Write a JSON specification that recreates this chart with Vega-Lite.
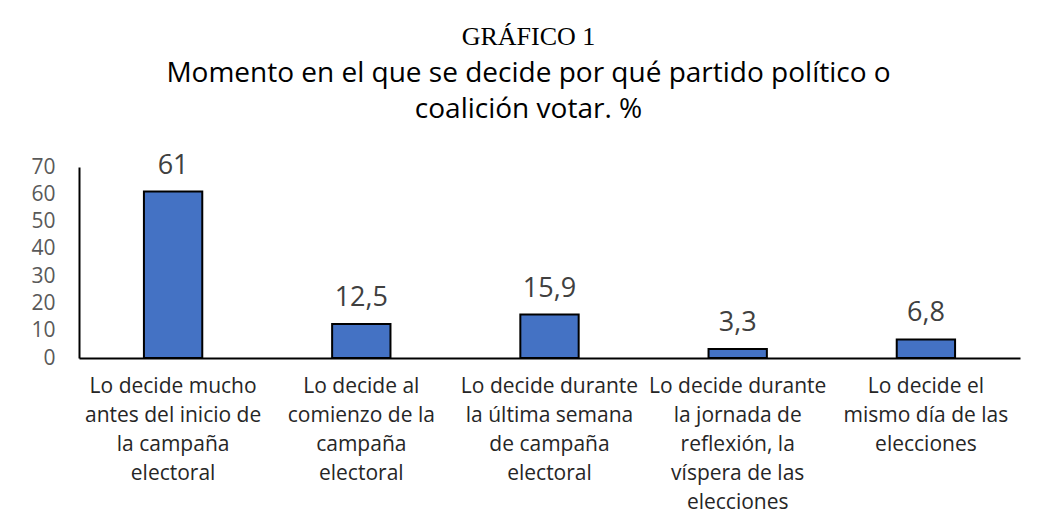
{
  "$schema": "https://vega.github.io/schema/vega-lite/v6.json",
  "autosize": "none",
  "width": 941,
  "height": 191,
  "padding": {"left": 79, "top": 167, "right": 19, "bottom": 163},
  "background": "white",
  "config": {
    "view": {"stroke": null},
    "locale": {"number": {"decimal": ",", "thousands": ".", "grouping": [3], "currency": ["", " €"]}}
  },
  "title": {
    "text": "GRÁFICO 1",
    "subtitle": ["Momento en el que se decide por qué partido político o", "coalición votar. %"],
    "font": "Liberation Serif",
    "fontSize": 26,
    "fontWeight": "normal",
    "color": "#000000",
    "subtitleFont": "Open Sans",
    "subtitleFontSize": 28,
    "subtitleColor": "#000000",
    "subtitleLineHeight": 36,
    "subtitlePadding": 10,
    "anchor": "middle",
    "dx": -21,
    "offset": 28
  },
  "data": {
    "values": [
      {"categoria": "Lo decide mucho\nantes del inicio de\nla campaña\nelectoral", "orden": 1, "porcentaje": 61},
      {"categoria": "Lo decide al\ncomienzo de la\ncampaña\nelectoral", "orden": 2, "porcentaje": 12.5},
      {"categoria": "Lo decide durante\nla última semana\nde campaña\nelectoral", "orden": 3, "porcentaje": 15.9},
      {"categoria": "Lo decide durante\nla jornada de\nreflexión, la\nvíspera de las\nelecciones", "orden": 4, "porcentaje": 3.3},
      {"categoria": "Lo decide el\nmismo día de las\nelecciones", "orden": 5, "porcentaje": 6.8}
    ]
  },
  "encoding": {
    "x": {
      "field": "categoria",
      "type": "nominal",
      "sort": {"field": "orden"},
      "scale": {"paddingInner": 0.69, "paddingOuter": 0.345},
      "axis": {
        "title": null,
        "labelAngle": 0,
        "labelExpr": "split(datum.value, '\\n')",
        "labelFont": "Open Sans",
        "labelFontSize": 21,
        "labelColor": "#262626",
        "labelLineHeight": 29,
        "labelBaseline": "top",
        "labelPadding": 17,
        "labelLimit": 0,
        "ticks": false,
        "domainColor": "#000000",
        "domainWidth": 2
      }
    },
    "y": {
      "field": "porcentaje",
      "type": "quantitative",
      "scale": {"domain": [0, 70]},
      "axis": {
        "title": null,
        "values": [0, 10, 20, 30, 40, 50, 60, 70],
        "grid": false,
        "ticks": false,
        "labelFont": "Open Sans",
        "labelFontSize": 21,
        "labelColor": "#595959",
        "labelPadding": 24,
        "domainColor": "#000000",
        "domainWidth": 2
      }
    }
  },
  "layer": [
    {
      "mark": {"type": "bar", "color": "#4472C4", "stroke": "#000000", "strokeWidth": 2}
    },
    {
      "mark": {"type": "text", "baseline": "bottom", "dy": -12, "font": "Open Sans", "fontSize": 27, "color": "#404040"},
      "encoding": {
        "text": {"field": "porcentaje", "type": "quantitative", "format": "~g"}
      }
    }
  ]
}
